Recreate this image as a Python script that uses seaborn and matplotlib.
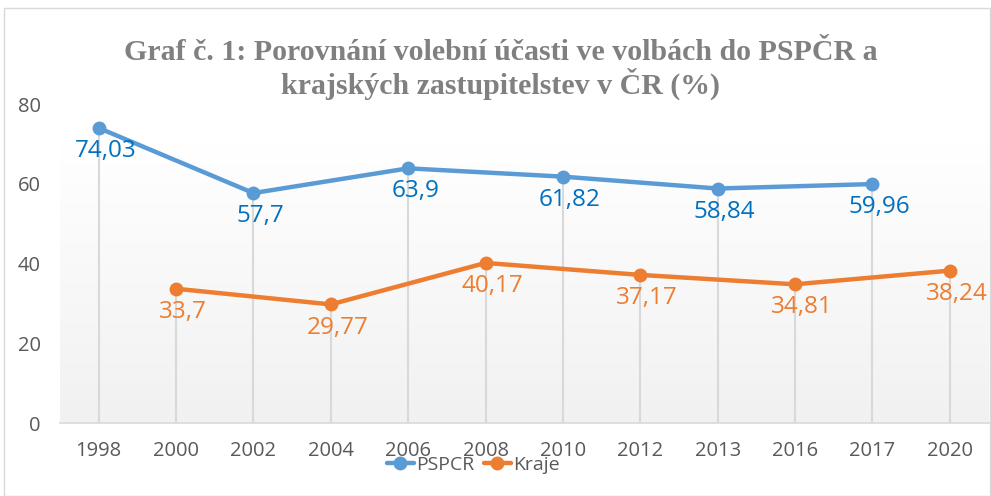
"""
Volební účast: PSPČR vs. krajská zastupitelstva (%)
Line chart with drop lines and data labels, saved to out.png.
"""

import numpy as np
import pandas as pd
import matplotlib
matplotlib.use("Agg")
import matplotlib.pyplot as plt
import seaborn as sns

# --- Data ---
years = ["1998", "2000", "2002", "2004", "2006", "2008",
         "2010", "2012", "2013", "2016", "2017", "2020"]
pspcr = [74.03, None, 57.7, None, 63.9, None, 61.82, None, 58.84, None, 59.96, None]
kraje = [None, 33.7, None, 29.77, None, 40.17, None, 37.17, None, 34.81, None, 38.24]
series_names = ["PSPCR", "Kraje"]

title = "Graf č. 1: Porovnání volební účasti ve volbách do PSPČR a\nkrajských zastupitelstev v ČR (%)"

line_colors = {"PSPCR": "#5b9bd5", "Kraje": "#ed7d31"}
label_colors = {"PSPCR": "#0070c0", "Kraje": "#ed7d31"}


def build_frame():
    df = pd.DataFrame({"year": years, "PSPCR": pspcr, "Kraje": kraje})
    df["pos"] = np.arange(len(years))
    long = df.melt(id_vars=["year", "pos"], value_vars=series_names,
                   var_name="series", value_name="value").dropna()
    return long


def fmt(v):
    return f"{v:g}".replace(".", ",")


def main():
    sns.set_theme(style="white")
    plt.rcParams["font.family"] = ["Open Sans", "DejaVu Sans"]

    long = build_frame()

    fig = plt.figure(figsize=(9.91, 4.96), dpi=100)
    ax = fig.add_axes([0.0605, 0.147, 0.937, 0.643])

    # soft gray gradient in the plot area
    grad = np.linspace(0, 1, 256).reshape(-1, 1)
    cmap = matplotlib.colors.LinearSegmentedColormap.from_list(
        "bg", ["#f1f1f1", "#ffffff"])
    ax.imshow(grad, aspect="auto", cmap=cmap, origin="lower",
              extent=[-0.5, len(years) - 0.5, 0, 70], zorder=0)

    # drop lines
    ax.vlines(long["pos"], 0, long["value"], color="#d9d9d9", lw=1.5, zorder=1)

    sns.lineplot(data=long, x="pos", y="value", hue="series",
                 hue_order=series_names, palette=line_colors,
                 marker="o", markersize=10, markeredgewidth=0,
                 linewidth=3.2, ax=ax, zorder=3)

    for _, r in long.iterrows():
        ax.annotate(fmt(r["value"]), (r["pos"], r["value"]),
                    xytext=(5, -8), textcoords="offset points",
                    ha="center", va="top", fontsize=17.5,
                    color=label_colors[r["series"]], zorder=4)

    ax.set_xlim(-0.5, len(years) - 0.5)
    ax.set_ylim(0, 80)
    ax.set_xticks(range(len(years)))
    ax.set_xticklabels(years)
    ax.set_yticks([0, 20, 40, 60, 80])
    ax.tick_params(axis="both", labelsize=14.5, colors="#595959", length=0)
    ax.tick_params(axis="x", pad=13)
    ax.tick_params(axis="y", pad=14)
    ax.set_xlabel("")
    ax.set_ylabel("")
    for side in ["top", "right", "left"]:
        ax.spines[side].set_visible(False)
    ax.spines["bottom"].set_color("#d9d9d9")
    ax.spines["bottom"].set_linewidth(1.2)

    # legend sits on top of the tick labels, as in the original
    handles, labels = ax.get_legend_handles_labels()
    leg = ax.legend(handles, labels, loc="center", bbox_to_anchor=(0.445, -0.13),
                    ncol=2, frameon=False, fontsize=14, handlelength=1.4,
                    handletextpad=0.1, columnspacing=0.5)
    for t in leg.get_texts():
        t.set_color("#595959")

    fig.text(0.505, 0.86, title, ha="center", va="center",
             family="Liberation Serif", fontweight="bold", fontsize=21.5,
             color="#808080", linespacing=1.05)

    # outer chart frame
    fig.patches.append(plt.Rectangle((0.004, 0.0), 0.995, 0.984, fill=False,
                                     edgecolor="#d9d9d9", lw=1,
                                     transform=fig.transFigure, figure=fig))

    fig.savefig("out.png", dpi=100)
    plt.close(fig)


if __name__ == "__main__":
    main()
